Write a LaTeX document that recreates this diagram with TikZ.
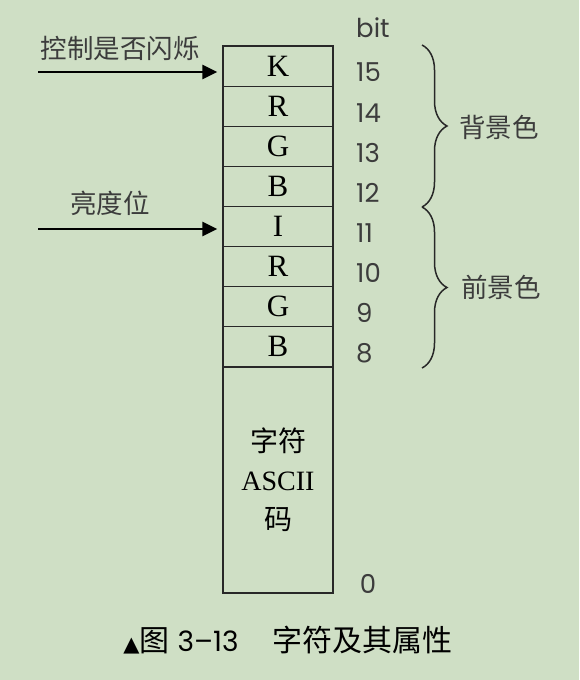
\documentclass[tikz,border=0pt]{standalone}
\usepackage{fontspec}
\setmainfont{Liberation Serif}
\newfontfamily\cjk{Noto Sans CJK SC}
\newfontfamily\numfont{Poppins}
\usetikzlibrary{positioning,arrows.meta,decorations.pathreplacing}
\definecolor{bg}{RGB}{207,223,197}
\definecolor{ink}{RGB}{40,40,40}
\definecolor{lblink}{RGB}{60,60,60}
\begin{document}
\begin{tikzpicture}[x=1pt,y=-1pt,
  cell/.style={draw=ink,line width=1.3pt,minimum width=110pt,minimum height=40.1pt,
    inner sep=0pt,font=\fontsize{31}{34}\selectfont},
  lbl/.style={font=\cjk\fontsize{26.5}{26.5}\selectfont,text=lblink,inner sep=0pt},
  bitno/.style={font=\numfont\fontsize{26}{26}\selectfont,text=lblink,inner sep=0pt,anchor=west},
  arr/.style={-{Triangle[length=15pt,width=14pt]},line width=2.6pt,shorten >=5pt},
  brc/.style={decorate,decoration={brace,amplitude=25pt},line width=1.5pt,draw=ink}]
  \fill[bg] (0,0) rectangle (579,680);
  \useasboundingbox (0,0) rectangle (579,680);
  \foreach \b/\l [count=\i from 0] in {15/K,14/R,13/G,12/B,11/I,10/R,9/G,8/B} {
    \node[cell] (c\b) at (278,66.1+40.1*\i) {\l};
    \node[bitno] (n\b) at (356,72.5+40.1*\i) {\b};
  }
  \node[cell,minimum height=226pt,align=center,
    font=\fontsize{28}{39}\selectfont] (ascii) at (278,480) {{\cjk 字符}\\ASCII\\{\cjk 码}};
  \node[bitno] (bit) at (356,28) {bit};
  \node[bitno,anchor=center] (n0) at (368,584) {0};
  \coordinate (kin) at (38,72);
  \coordinate (iin) at (38,229);
  \draw[arr] (kin) -- (kin -| c15.west);
  \draw[arr] (iin) -- (iin -| c11.west);
  \node[lbl] (flash) at (120,48) {控制是否闪烁};
  \node[lbl] (bright) at (110,203) {亮度位};
  \coordinate (bt) at (422,45);
  \coordinate (bm) at (422,207);
  \coordinate (bb) at (422,368);
  \draw[brc] (bt) -- (bm);
  \draw[brc] (bm) -- (bb);
  \node[lbl,anchor=west] (back) at (459,127) {背景色};
  \node[lbl,anchor=west] (fore) at (461,287) {前景色};
  \node[inner sep=0pt,text=black] (cap) at (288,640)
    {{\fontspec{DejaVu Sans}\fontsize{21}{21}\selectfont ▲}{\cjk\fontsize{30}{30}\selectfont 图}\hspace{8pt}%
     {\numfont\fontsize{28}{28}\selectfont 3–13}\hspace{34pt}{\cjk\fontsize{30}{30}\selectfont 字符及其属性}};
\end{tikzpicture}
\end{document}
